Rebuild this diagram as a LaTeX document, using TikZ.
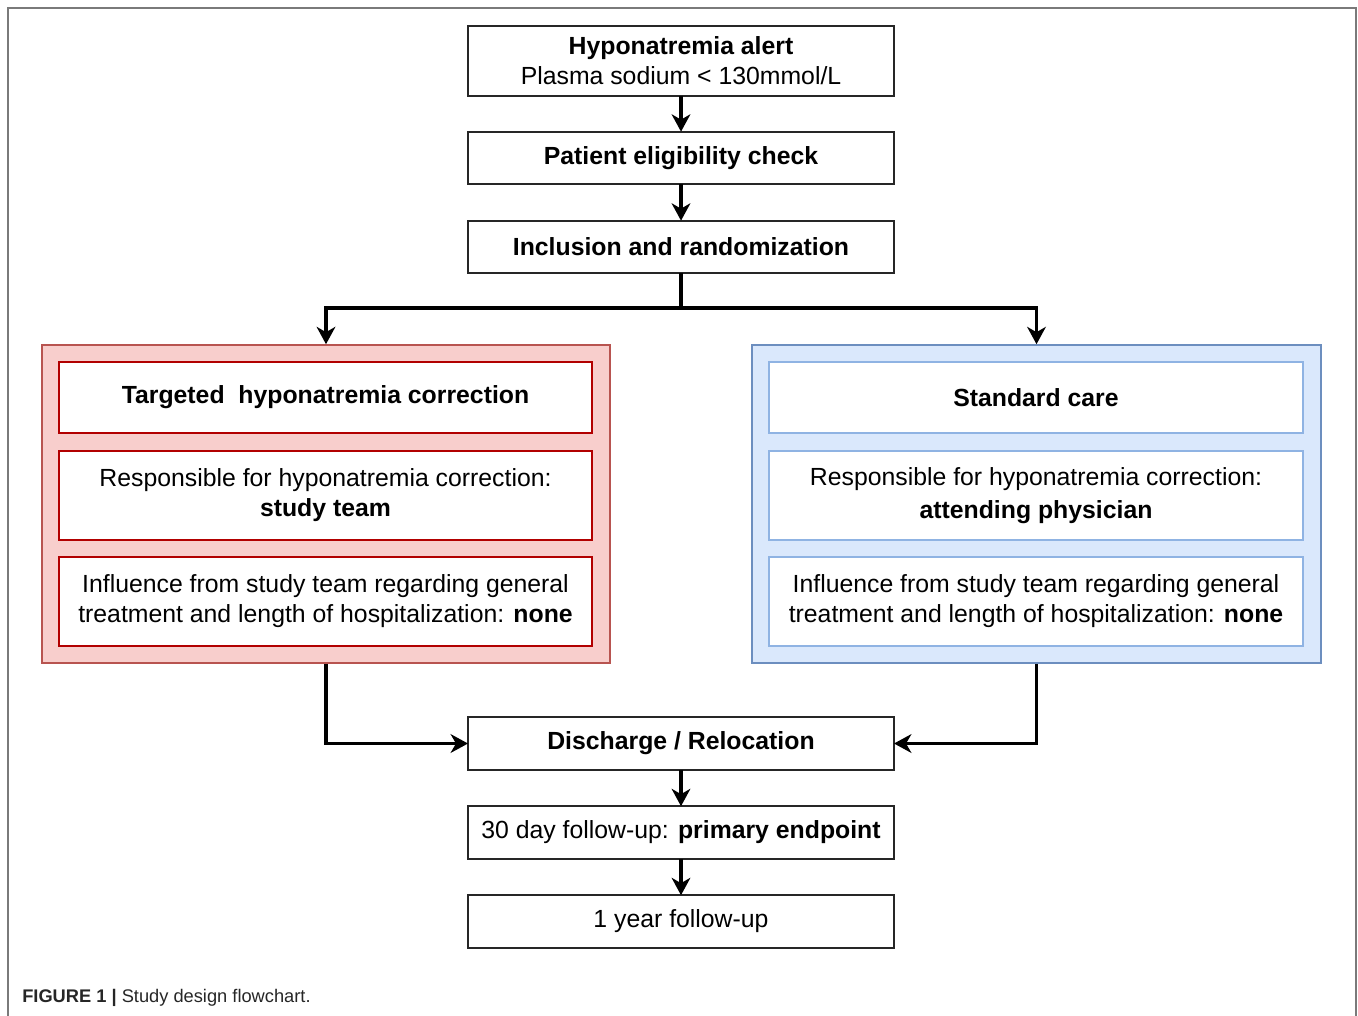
\documentclass[tikz,border=0pt]{standalone}
\usepackage{fontspec}
\setmainfont{Liberation Sans}
\usetikzlibrary{positioning,arrows.meta,calc}
\definecolor{grpRed}{HTML}{F8CECC}
\definecolor{grpRedLine}{HTML}{B85450}
\definecolor{inRedLine}{HTML}{B20000}
\definecolor{grpBlue}{HTML}{DAE8FC}
\definecolor{grpBlueLine}{HTML}{6C8EBF}
\definecolor{inBlueLine}{HTML}{8FB3E3}
\definecolor{frameGrey}{HTML}{7A7A7A}
\tikzset{
  blk/.style={draw=black!85, line width=1.4pt, fill=white, align=center,
              inner sep=0pt, outer sep=0pt,
              font=\fontsize{18.6}{22.5}\selectfont},
  step box/.style={blk, minimum width=319.5pt, minimum height=39.5pt},
  redgrp/.style={draw=grpRedLine, line width=1.2pt, fill=grpRed,
                 minimum width=426pt, minimum height=238.5pt, inner sep=0pt},
  bluegrp/.style={draw=grpBlueLine, line width=1.2pt, fill=grpBlue,
                  minimum width=426.75pt, minimum height=238.5pt, inner sep=0pt},
  redin/.style={blk, draw=inRedLine, line width=1.2pt, minimum width=399.75pt},
  bluein/.style={blk, draw=inBlueLine, line width=1.2pt, minimum width=400.5pt},
  flow/.style={-{Stealth[length=13pt, width=14pt, inset=4pt]}, line width=2.4pt},
  caption/.style={font=\fontsize{13.7}{16}\selectfont, text=black!85,
                  inner sep=0pt, anchor=west},
}

\begin{document}
\begin{tikzpicture}[x=0.75pt, y=-0.75pt]
\useasboundingbox (0,0) rectangle (1358,1015);
% frame of the figure
\draw[frameGrey, line width=1.5pt] (8,1016) -- (8,8) -- (1356,8) -- (1356,1016);

\node[step box, minimum height=52.5pt] (alert) at (681,61)
  {\textbf{Hyponatremia alert}\\Plasma sodium < 130mmol/L};
\node[step box] (elig) at (681,158) {\textbf{Patient eligibility check}};
\node[step box] (incl) at (681,247) {\textbf{Inclusion and randomization}};
\coordinate (split) at (681,308);

\node[redgrp] (target) at (326,504) {};
\node[redin, minimum height=53.25pt] (tHead) at (325.5,397.5)
  {\textbf{Targeted\ \ hyponatremia correction}};
\node[redin, minimum height=66.75pt] (tResp) at (325.5,495.5)
  {Responsible for hyponatremia correction:\\\textbf{study team}};
\node[redin, minimum height=66.75pt] (tInfl) at (325.5,601.5)
  {Influence from study team regarding general\\
   treatment and length of hospitalization: \textbf{none}};

\node[bluegrp] (standard) at (1036.5,504) {};
\node[bluein, minimum height=53.25pt] (sHead) at (1036,397.5)
  {\textbf{Standard care}};
\node[bluein, minimum height=66.75pt] (sResp) at (1036,495.5)
  {Responsible for hyponatremia correction:\\[2pt]\textbf{attending physician}};
\node[bluein, minimum height=66.75pt] (sInfl) at (1036,601.5)
  {Influence from study team regarding general\\
   treatment and length of hospitalization: \textbf{none}};

\node[step box] (disch) at (681,743.5) {\textbf{Discharge / Relocation}};
\node[step box] (fu30) at (681,832.5)
  {30 day follow-up: \textbf{primary endpoint}};
\node[step box] (fu1) at (681,921.5) {1 year follow-up};

\draw[flow] (alert) -- (elig);
\draw[flow] (elig) -- (incl);
\draw[line width=2.4pt] (incl) -- (split);
\draw[flow] (split) -| (target.north);
\draw[flow] (split) -| (standard.north);
\draw[flow] (target.south) |- (disch.west);
\draw[flow] (standard.south) |- (disch.east);
\draw[flow] (disch) -- (fu30);
\draw[flow] (fu30) -- (fu1);

\node[caption] (cap) at (22,998)
  {\textbf{FIGURE 1 |} Study design flowchart.};
\end{tikzpicture}
\end{document}
